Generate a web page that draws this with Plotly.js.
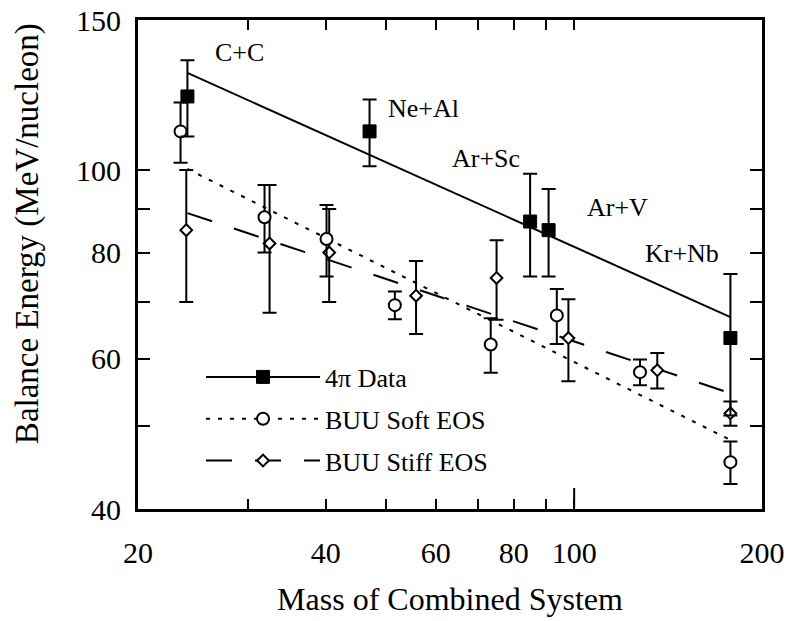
<!DOCTYPE html>
<html><head><meta charset="utf-8">
<script src="https://cdn.plot.ly/plotly-3.0.1.min.js"></script>
<style>html,body{margin:0;padding:0;background:#fff}</style>
</head><body><div id="chart" style="width:787px;height:621px"></div>
<script>
// ---- data ----
const systems = ['C+C', 'Ne+Al', 'Ar+Sc', 'Ar+V', 'Kr+Nb'];
const dataMass = [24, 47, 85, 91, 178];
const dataE = [122, 111, 87, 85, 63.5];
const dataErr = [12.5, 10, 12, 10, 12];

const softMass = [23.4, 31.9, 40.1, 51.6, 73.5, 93.8, 127.5, 178];
const softE = [111, 88, 83, 69.4, 62.4, 67.5, 57.9, 45.4];
const softErr = [9, 8, 8, 2.6, 4.6, 5, 2, 2.6];

const stiffMass = [23.9, 32.5, 40.5, 55.8, 75.1, 97.9, 135.9, 178];
const stiffE = [85, 82, 80, 71.2, 74.7, 63.5, 58.2, 51.8];
const stiffErr = [15, 14, 10, 7, 8, 7, 2.8, 1.7];

const fitMass = [24, 178];
const fitData = [130, 67.2];
const fitSoft = [100.3, 48.2];
const fitStiff = [89, 54.7];

const seriesNames = ['4\u03c0 Data', 'BUU Soft EOS', 'BUU Stiff EOS'];
const xTickVals = [20, 40, 60, 80, 100, 200];
const xMinorVals = [30, 50, 70, 90];
const yTickVals = [40, 60, 80, 100, 150];
const yMinorVals = [50, 70, 90];
const xTitle = 'Mass of Combined System';
const yTitle = 'Balance Energy (MeV/nucleon)';

// ---- styling ----
const FONT = 'Liberation Serif, Times New Roman, serif';
const solidLine = {color: 'black', width: 2, dash: 'solid'};
const dotLine = {color: 'black', width: 2, dash: '4px,8px'};
const dashLine = {color: 'black', width: 2, dash: '26px,23px'};
const sqMarker = {symbol: 'square', size: 13, color: 'black', line: {color: 'black', width: 1}};
const circMarker = {symbol: 'circle', size: 12, color: 'white', line: {color: 'black', width: 2}};
const diaMarker = {symbol: 'diamond', size: 9, color: 'white', line: {color: 'black', width: 2}};
const errStyle = arr => ({type: 'data', array: arr, visible: true, thickness: 2, width: 7, color: 'black'});

const traces = [
  {x: fitMass, y: fitData, mode: 'lines', line: solidLine, showlegend: false, hoverinfo: 'skip'},
  {x: fitMass, y: fitSoft, mode: 'lines', line: dotLine, showlegend: false, hoverinfo: 'skip'},
  {x: fitMass, y: fitStiff, mode: 'lines', line: dashLine, showlegend: false, hoverinfo: 'skip'},
  {x: stiffMass, y: stiffE, mode: 'markers', marker: diaMarker, error_y: errStyle(stiffErr), showlegend: false},
  {x: softMass, y: softE, mode: 'markers', marker: circMarker, error_y: errStyle(softErr), showlegend: false},
  {x: dataMass, y: dataE, text: systems, mode: 'markers', marker: sqMarker, error_y: errStyle(dataErr), showlegend: false},
  // legend entries
  {x: [null], y: [null], mode: 'lines+markers', name: seriesNames[0], line: solidLine, marker: sqMarker, legendgroup: 'a'},
  {x: [null], y: [null], mode: 'lines+markers', name: seriesNames[1], line: dotLine, marker: circMarker, legendgroup: 'b'},
  {x: [null], y: [null], mode: 'lines+markers', name: seriesNames[2], line: dashLine, marker: diaMarker, legendgroup: 'c'}
];

const labelPos = [[0.162, 0.934], [0.458, 0.819], [0.558, 0.717], [0.768, 0.617], [0.872, 0.523]];
const annotations = systems.map((s, i) => ({
  text: s, xref: 'paper', yref: 'paper', x: labelPos[i][0], y: labelPos[i][1],
  xanchor: 'center', yanchor: 'middle', showarrow: false, font: {family: FONT, size: 26, color: 'black'}
}));
annotations.push({
  text: yTitle, xref: 'paper', yref: 'paper', x: -0.178, y: 0.564, textangle: -90,
  xanchor: 'center', yanchor: 'middle', showarrow: false, font: {family: FONT, size: 33, color: 'black'}
});

const layout = {
  width: 787, height: 621,
  margin: {l: 138, r: 25, t: 20, b: 112},
  paper_bgcolor: 'white', plot_bgcolor: 'white',
  font: {family: FONT, color: 'black'},
  showlegend: true,
  legend: {
    x: 0.101, y: 0.318, xanchor: 'left', yanchor: 'top',
    bgcolor: 'rgba(0,0,0,0)', borderwidth: 0,
    font: {family: FONT, size: 26, color: 'black'},
    itemwidth: 114, tracegroupgap: 5, traceorder: 'grouped'
  },
  xaxis: {
    type: 'log', range: [Math.log10(20), Math.log10(200)],
    tickmode: 'array', tickvals: xTickVals, ticktext: xTickVals.map(String),
    ticks: 'inside', ticklen: 10, tickwidth: 2, tickcolor: 'black',
    minor: {tickmode: 'array', tickvals: xMinorVals, ticks: 'inside', ticklen: 10, tickwidth: 2, tickcolor: 'black'},
    showline: true, linewidth: 3, linecolor: 'black', mirror: 'ticks',
    showgrid: false, zeroline: false,
    tickfont: {family: FONT, size: 30, color: 'black'}, ticklabelstandoff: 15,
    title: {text: xTitle, font: {family: FONT, size: 32, color: 'black'}, standoff: 20}
  },
  yaxis: {
    type: 'log', range: [Math.log10(40), Math.log10(150)],
    tickmode: 'array', tickvals: yTickVals, ticktext: yTickVals.map(String),
    ticks: 'inside', ticklen: 12, tickwidth: 2, tickcolor: 'black',
    minor: {tickmode: 'array', tickvals: yMinorVals, ticks: 'inside', ticklen: 12, tickwidth: 2, tickcolor: 'black'},
    showline: true, linewidth: 3, linecolor: 'black', mirror: 'ticks',
    showgrid: false, zeroline: false,
    tickfont: {family: FONT, size: 30, color: 'black'}, ticklabelstandoff: 8
  },
  shapes: [
    {type: 'line', xref: 'paper', yref: 'paper', x0: Math.log10(100 / 20), x1: Math.log10(100 / 20), y0: 0, y1: 0.043,
     line: {color: 'black', width: 2}}
  ],
  annotations: annotations
};

Plotly.newPlot('chart', traces, layout, {displayModeBar: false, staticPlot: true});
</script>
</body></html>
